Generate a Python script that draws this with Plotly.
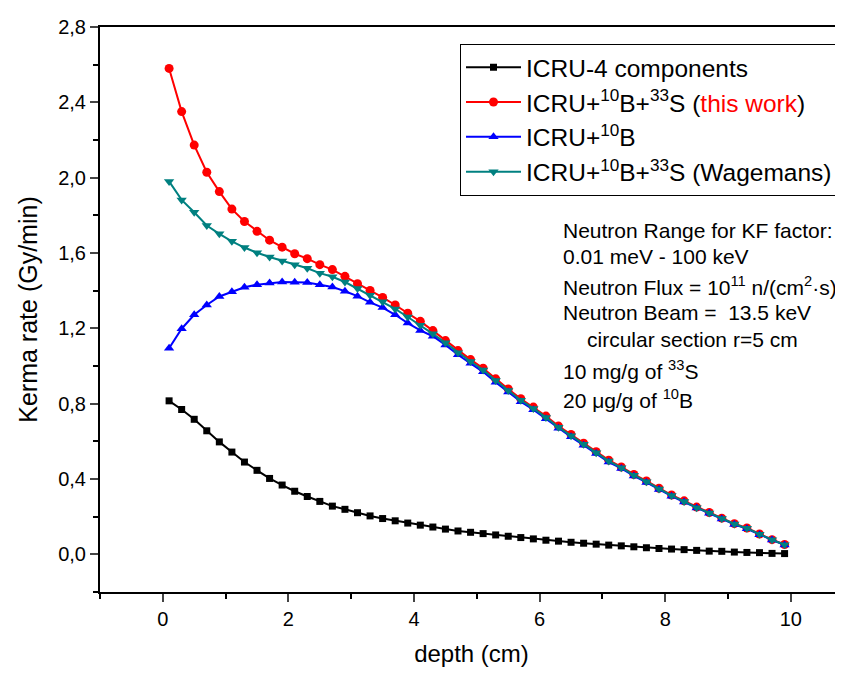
import plotly.graph_objects as go

depth = [round(0.1 + 0.2 * i, 1) for i in range(50)]

icru4 = [0.815, 0.769, 0.717, 0.656, 0.597, 0.543, 0.490, 0.446, 0.403, 0.368,
         0.335, 0.307, 0.281, 0.256, 0.239, 0.221, 0.204, 0.190, 0.178, 0.166,
         0.155, 0.145, 0.134, 0.124, 0.117, 0.110, 0.103, 0.096, 0.089, 0.082,
         0.075, 0.070, 0.064, 0.059, 0.054, 0.049, 0.045, 0.040, 0.035, 0.031,
         0.028, 0.025, 0.021, 0.017, 0.016, 0.012, 0.010, 0.009, 0.005, 0.004]

this_work = [2.580, 2.351, 2.173, 2.029, 1.926, 1.833, 1.767, 1.715, 1.668, 1.631,
             1.596, 1.570, 1.538, 1.512, 1.476, 1.437, 1.401, 1.364, 1.324, 1.280,
             1.237, 1.188, 1.135, 1.082, 1.034, 0.988, 0.932, 0.878, 0.826, 0.782,
             0.734, 0.681, 0.636, 0.590, 0.545, 0.500, 0.464, 0.424, 0.390, 0.351,
             0.315, 0.284, 0.251, 0.222, 0.192, 0.163, 0.140, 0.108, 0.078, 0.052]

icru_b10 = [1.094, 1.198, 1.272, 1.324, 1.369, 1.394, 1.418, 1.432, 1.441, 1.446,
            1.445, 1.443, 1.432, 1.420, 1.397, 1.371, 1.338, 1.310, 1.272, 1.228,
            1.189, 1.158, 1.112, 1.060, 1.014, 0.969, 0.914, 0.862, 0.810, 0.768,
            0.720, 0.669, 0.624, 0.579, 0.535, 0.490, 0.456, 0.416, 0.382, 0.344,
            0.309, 0.278, 0.246, 0.218, 0.188, 0.159, 0.136, 0.104, 0.076, 0.050]

wagemans = [1.980, 1.882, 1.816, 1.746, 1.702, 1.662, 1.629, 1.601, 1.579, 1.558,
            1.538, 1.519, 1.493, 1.474, 1.446, 1.411, 1.376, 1.341, 1.303, 1.260,
            1.216, 1.171, 1.123, 1.071, 1.024, 0.979, 0.923, 0.870, 0.818, 0.775,
            0.727, 0.675, 0.630, 0.585, 0.540, 0.495, 0.460, 0.420, 0.386, 0.347,
            0.312, 0.281, 0.248, 0.220, 0.190, 0.161, 0.138, 0.106, 0.077, 0.051]

series = [
    ("ICRU-4 components", icru4, "#000000", "square", 7),
    ("ICRU+<sup>10</sup>B+<sup>33</sup>S (<span style='color:#ff0000'>this work</span>)",
     this_work, "#ff0000", "circle", 9),
    ("ICRU+<sup>10</sup>B", icru_b10, "#0000ff", "triangle-up", 9),
    ("ICRU+<sup>10</sup>B+<sup>33</sup>S (Wagemans)", wagemans, "#008080", "triangle-down", 9),
]

# (text, left x on page, centre y on page)
notes = [
    ("Neutron Range for KF factor:", 563, 225),
    ("0.01 meV - 100 keV", 563, 251),
    ("Neutron Flux = 10<sup>11</sup> n/(cm<sup>2</sup>·s)", 563, 281),
    ("Neutron Beam =  13.5 keV", 563, 308),
    ("circular section r=5 cm", 587, 335),
    ("10 mg/g of <sup>33</sup>S", 563, 366),
    ("20 μg/g of <sup>10</sup>B", 563, 396),
]

FONT = "Liberation Sans, Arial, sans-serif"
W, H = 843, 674
OFF = 8  # page offset of the figure (body margin)
# plot area on the page: left 100, top 18, bottom 592, right 843
L = 100 - OFF
T = 18 - OFF
B = H - (592 - OFF)
R = W - (843 - OFF)

fig = go.Figure()
for name, ys, color, sym, size in series:
    fig.add_trace(go.Scatter(
        x=depth, y=ys, mode="lines+markers", name=name,
        line=dict(color=color, width=2),
        marker=dict(symbol=sym, size=size, color=color, line=dict(width=0)),
    ))

pw = W - L - R
ph = H - T - B


def px2paper_x(px):
    return (px - OFF - L) / pw


def px2paper_y(py):
    return 1 - (py - OFF - T) / ph


for text, px, py in notes:
    fig.add_annotation(
        x=px2paper_x(px), y=px2paper_y(py), xref="paper", yref="paper",
        text=text, showarrow=False, xanchor="left", yanchor="middle",
        xshift=-2,
        font=dict(family=FONT, size=21, color="black"),
    )

fig.update_layout(
    width=W, height=H,
    margin=dict(l=L, r=R, t=T, b=B),
    plot_bgcolor="white", paper_bgcolor="white",
    separators=",.",
    font=dict(family=FONT, color="black"),
    showlegend=True,
    legend=dict(
        x=px2paper_x(460), y=px2paper_y(35), xanchor="left", yanchor="top",
        bordercolor="black", borderwidth=1, bgcolor="white",
        font=dict(family=FONT, size=24.5, color="black"),
        itemwidth=55, tracegroupgap=0,
    ),
    xaxis=dict(
        range=[-1, 10.83], tick0=0, dtick=2, ticks="outside", ticklen=8, tickwidth=2,
        showline=True, linecolor="black", linewidth=2, mirror=True,
        showgrid=False, zeroline=False, ticklabeloverflow="allow",
        tickfont=dict(family=FONT, size=20),
        minor=dict(dtick=1, ticks="outside", ticklen=5, tickwidth=2, tickcolor="black"),
        title=dict(text="depth (cm)", font=dict(family=FONT, size=24), standoff=16),
    ),
    yaxis=dict(
        range=[-0.2, 2.8], tick0=0, dtick=0.4, tickformat=".1f",
        ticks="outside", ticklen=8, tickwidth=2,
        showline=True, linecolor="black", linewidth=2, mirror=False,
        showgrid=False, zeroline=False, ticklabeloverflow="allow",
        tickfont=dict(family=FONT, size=20),
        minor=dict(dtick=0.2, ticks="outside", ticklen=5, tickwidth=2, tickcolor="black"),
        title=dict(text="Kerma rate (Gy/min)", font=dict(family=FONT, size=25), standoff=13),
    ),
)

fig.write_html("out.html")
